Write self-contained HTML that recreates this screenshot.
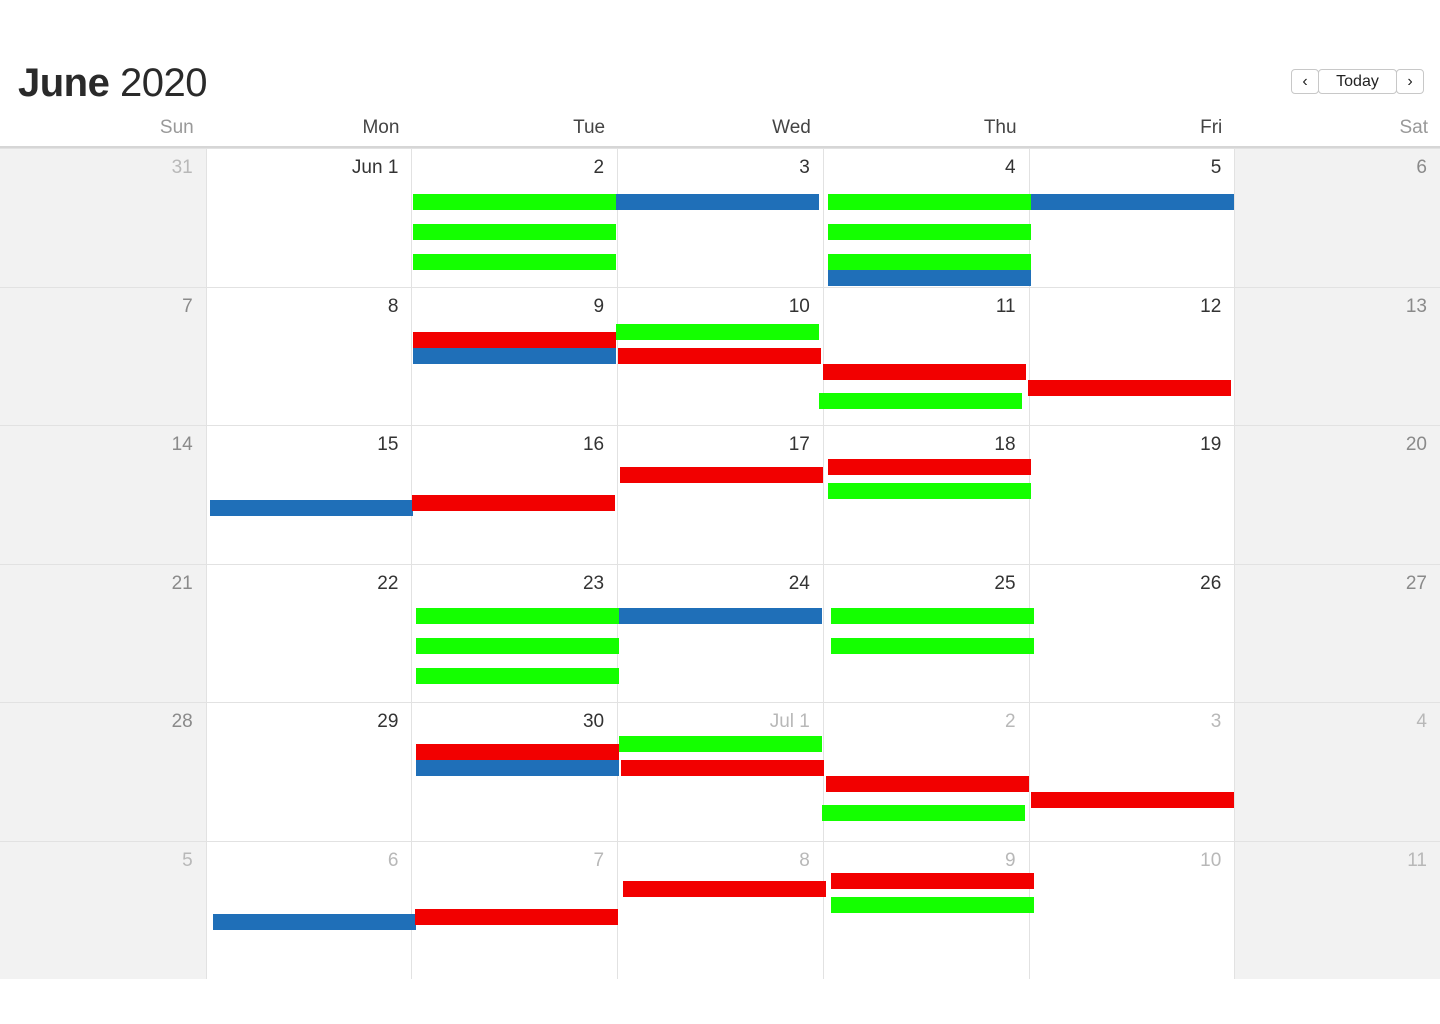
<!DOCTYPE html>
<html><head><meta charset="utf-8">
<style>
html,body{margin:0;padding:0;background:#fff;width:1440px;height:1024px;overflow:hidden;font-family:"Liberation Sans",sans-serif;}
#title{position:absolute;left:18px;top:61px;font-size:40px;color:#2a2a2a;letter-spacing:-0.5px}
#title b{font-weight:bold}
.btn{position:absolute;top:69px;height:25px;border:1px solid #c8c8c8;border-radius:4px;background:#fff;font-size:16px;color:#222;text-align:center;line-height:24px;box-sizing:border-box}
.wd{position:absolute;top:117px;font-size:19px;color:#444;text-align:right;width:190px}
.cell{position:absolute;box-sizing:border-box;border-top:1px solid #e2e2e2;border-left:1px solid #e2e2e2}
.num{position:absolute;right:13px;top:8px;font-size:19px;color:#333}
.bar{position:absolute;height:16px}
</style></head><body>
<div id="title"><b>June</b> 2020</div>
<div class="btn" style="left:1291px;width:28px">&#8249;</div>
<div class="btn" style="left:1318px;width:79px">Today</div>
<div class="btn" style="left:1396px;width:28px">&#8250;</div>
<div style="position:absolute;left:0;top:146px;width:1440px;height:2px;background:#d6d6d6"></div>
<div id="cal"></div>
<script>
const weekdays=["Sun","Mon","Tue","Wed","Thu","Fri","Sat"];
const dayLabels=[
["31","Jun 1","2","3","4","5","6"],
["7","8","9","10","11","12","13"],
["14","15","16","17","18","19","20"],
["21","22","23","24","25","26","27"],
["28","29","30","Jul 1","2","3","4"],
["5","6","7","8","9","10","11"]];
const otherMonth=[[1,0,0,0,0,0,0],[0,0,0,0,0,0,0],[0,0,0,0,0,0,0],[0,0,0,0,0,0,0],[0,0,0,1,1,1,1],[1,1,1,1,1,1,1]];
const barWeek=[0,0,0,0,0,0,0,0,0,0, 1,1,1,1,1,1,1, 2,2,2,2,2, 3,3,3,3,3,3, 4,4,4,4,4,4,4, 5,5,5,5,5];
const barDay=[2,2,2,3,4,4,4,4,5, 5, 2,2,3,3,4,4,5, 1,2,3,4,4, 2,2,2,3,4,4, 2,2,3,3,4,4,5, 1,2,3,4,4];
const barColor=["g","g","g","b","g","g","g","b","b","b", "r","b","g","r","r","g","r", "b","r","r","r","g", "g","g","g","b","g","g", "r","b","g","r","r","g","r", "b","r","r","r","g"];
const barDx=[2,2,2,-1,5,5,5,5,2,2, 2,2,-1,1,0,-4,-1, 4,1,3,5,5, 5,5,5,2,8,8, 5,5,2,4,3,-1,2, 7,4,6,8,8];
const barDy=[46,76,106,46,46,76,106,122,46,46, 45,61,37,61,77,106,93, 75,70,42,34,58, 44,74,104,44,44,74, 42,58,34,58,74,103,90, 73,68,40,32,56];
const colors={g:"#14ff00",b:"#1f6fb8",r:"#f20000"};
const colW=1440/7, rowH=138.5, top0=148;
const xCol=d=>d*colW, yRow=w=>top0+w*rowH;
const cal=document.getElementById('cal');
weekdays.forEach((w,i)=>{
 const el=document.createElement('div');el.className='wd';
 
 
 el.style.left=(xCol(i)+colW-12-190)+'px';
 if(i==0||i==6)el.style.color='#999';
 el.textContent=w;document.body.appendChild(el);
});
for(let w=0;w<6;w++)for(let d=0;d<7;d++){
 const c=document.createElement('div');c.className='cell';
 
 
 c.style.left=xCol(d)+'px';c.style.top=yRow(w)+'px';c.style.width=colW+'px';c.style.height=rowH+'px';
 if(d==0||d==6)c.style.background='#f2f2f2';
 if(d==0)c.style.borderLeft='none';
 const n=document.createElement('div');n.className='num';
 
 
 n.textContent=dayLabels[w][d];
 if(otherMonth[w][d])n.style.color='#b8b8b8';else if(d==0||d==6)n.style.color='#8a8a8a';
 c.appendChild(n);cal.appendChild(c);
}
for(let i=0;i<barWeek.length;i++){
 const b=document.createElement('div');b.className='bar';
 
 
 b.style.left=(xCol(barDay[i])+barDx[i])+'px';
 b.style.top=(yRow(barWeek[i])+barDy[i])+'px';
 b.style.width='203px';
 b.style.background=colors[barColor[i]];
 cal.appendChild(b);
}
</script>
</body></html>
